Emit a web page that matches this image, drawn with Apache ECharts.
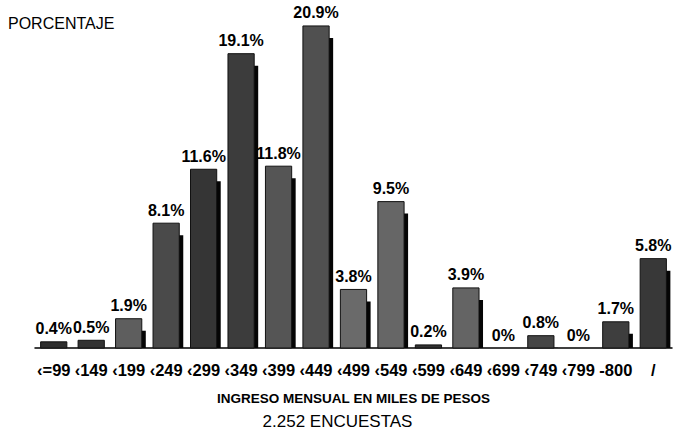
<!DOCTYPE html>
<html>
<head>
<meta charset="utf-8">
<script src="https://cdn.jsdelivr.net/npm/echarts@6/dist/echarts.min.js"></script>
<style>
html, body { margin: 0; padding: 0; background: #fff; }
#chart { width: 675px; height: 439px; }
</style>
</head>
<body>
<div id="chart"></div>
<script>
// income brackets, thousands of pesos
const categories = ['‹=99', '‹149', '‹199', '‹249', '‹299', '‹349', '‹399', '‹449', '‹499',
    '‹549', '‹599', '‹649', '‹699', '‹749', '‹799', '-800', '/'];
// share of the 2.252 surveys, %
const percentages = [0.4, 0.5, 1.9, 8.1, 11.6, 19.1, 11.8, 20.9, 3.8, 9.5, 0.2, 3.9, 0, 0.8, 0, 1.7, 5.8];
const barColors = ['#2e2e2e', '#333333', '#5e5e5e', '#4a4a4a', '#353535', '#3c3c3c', '#555555', '#505050',
    '#6a6a6a', '#666666', '#333333', '#646464', '#333333', '#454545', '#333333', '#3e3e3e', '#383838'];

const FONT = "'Liberation Sans', Arial, sans-serif";
const chart = echarts.init(document.getElementById('chart'), null, { renderer: 'svg' });

const renderBar = (params, api) => {
    const idx = api.value(0);
    const v = api.value(1);
    const top = api.coord([idx, v]);
    const base = api.coord([idx, 0]);
    const band = api.size([1, 0])[0];
    const w = band * 0.7;
    const x0 = top[0] - w / 2;
    const h = base[1] - top[1];
    const children = [];
    const shTop = top[1] + 12;
    if (h > 0) {
        if (shTop < base[1]) {
            children.push({
                type: 'rect',
                shape: { x: x0 + 4, y: shTop, width: w, height: base[1] - shTop },
                style: { fill: '#050505' }
            });
        }
        children.push({
            type: 'rect',
            shape: { x: x0, y: top[1], width: w, height: Math.max(h, 2) },
            style: { fill: barColors[idx], stroke: '#111', lineWidth: 1 }
        });
    }
    children.push({
        type: 'text',
        style: {
            text: v + '%',
            x: top[0],
            y: top[1] - 5,
            align: 'center',
            verticalAlign: 'bottom',
            textAlign: 'center',
            textVerticalAlign: 'bottom',
            fill: '#000',
            font: 'bold 16px ' + FONT
        }
    });
    return { type: 'group', children };
};

chart.setOption({
    animation: false,
    grid: { left: 35, right: 3, top: 9, bottom: 91 },
    xAxis: {
        type: 'category',
        data: categories,
        axisLine: { lineStyle: { color: '#000', width: 1.5 } },
        axisTick: { alignWithLabel: true, length: 7, lineStyle: { color: '#000', width: 1.5 } },
        axisLabel: {
            interval: 0, margin: 13, color: '#000',
            fontFamily: FONT, fontWeight: 'bold', fontSize: 16.5
        },
        name: 'INGRESO MENSUAL EN MILES DE PESOS',
        nameLocation: 'middle',
        nameGap: 43,
        nameTextStyle: { color: '#000', fontFamily: FONT, fontWeight: 'bold', fontSize: 13.5 }
    },
    yAxis: { type: 'value', min: 0, max: 22, show: false },
    graphic: [
        {
            type: 'text', left: 8, top: 15,
            style: { text: 'PORCENTAJE', fill: '#000', font: '16px ' + FONT }
        },
        {
            type: 'text', left: 'center', top: 413,
            style: { text: '2.252 ENCUESTAS', fill: '#000', font: '17px ' + FONT }
        }
    ],
    series: [{
        type: 'custom',
        renderItem: renderBar,
        data: percentages.map((v, i) => [i, v]),
        encode: { x: 0, y: 1 }
    }]
});
</script>
</body>
</html>
